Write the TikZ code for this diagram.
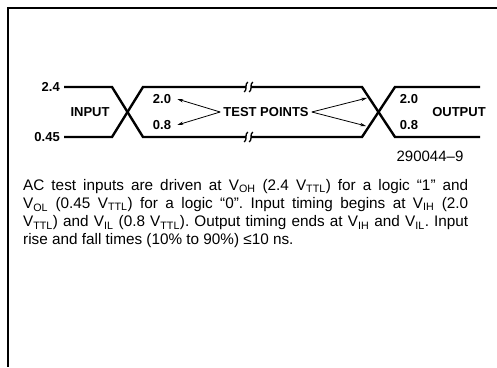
\documentclass[tikz,border=0pt]{standalone}
\usepackage{fontspec}
\setmainfont{Liberation Sans}
\usetikzlibrary{arrows.meta, positioning}

\begin{document}
\begin{tikzpicture}[x=1pt, y=-1pt,
    wave/.style={line width=2.4pt, line join=miter},
    lvl/.style={font=\fontsize{13}{15}\selectfont\bfseries, inner sep=1pt},
    arr/.style={-{Stealth[length=6pt,width=3.5pt]}, line width=0.8pt},
    brk/.style={line width=1.3pt},
    figno/.style={font=\fontsize{15}{17}\selectfont},
    caption/.style={font=\fontsize{15.3}{18.2}\selectfont\frenchspacing, align=justify,
        text width=445pt, inner sep=0pt, anchor=north west},
]
\useasboundingbox (0,0) rectangle (497,367);
% frame
\draw[line width=1.4pt] (497,8) -- (8,8) -- (8,367);

% waveforms
\draw[wave] (64,87) -- (112,87) -- (143,137) -- (246,137);
\draw[wave] (64,137) -- (112,137) -- (143,87) -- (246,87);
\draw[wave] (251,87) -- (362,87) -- (395,137) -- (480,137);
\draw[wave] (251,137) -- (362,137) -- (395,87) -- (480,87);
% break marks
\foreach \yb in {87,137} {
  \foreach \xb in {246,251}
    \draw[brk] (\xb+1.8,\yb-5) .. controls (\xb-1.8,\yb-3) and (\xb+1.8,\yb+3) .. (\xb-1.8,\yb+5);
}

% levels and labels
\node[lvl, anchor=east] (v24) at (61,87) {2.4};
\node[lvl, anchor=east] (v045) at (61,137) {0.45};
\node[lvl] (inp) at (90,112) {INPUT};
\node[lvl] (i20) at (162,99) {2.0};
\node[lvl] (i08) at (162,125) {0.8};
\node[lvl] (tp) at (266,112) {TEST POINTS};
\node[lvl] (o20) at (409,99) {2.0};
\node[lvl] (o08) at (409,125) {0.8};
\node[lvl] (outp) at (459,112) {OUTPUT};
\coordinate (x20) at (367,98);
\coordinate (x08) at (366,126);

\draw[arr] ([xshift=-2pt]tp.west) -- ([xshift=5pt]i20.east);
\draw[arr] ([xshift=-2pt]tp.west) -- ([xshift=5pt]i08.east);
\draw[arr] ([xshift=2pt]tp.east) -- (x20);
\draw[arr] ([xshift=2pt]tp.east) -- (x08);

\node[figno] (fig) at (430,156) {290044--9};

\node[caption] (cap) at (23,179) {AC test inputs are driven at V\textsubscript{OH} (2.4 V\textsubscript{TTL}) for a logic ``1'' and\linebreak
V\textsubscript{OL} (0.45 V\textsubscript{TTL}) for a logic ``0''. Input timing begins at V\textsubscript{IH} (2.0\linebreak
V\textsubscript{TTL}) and V\textsubscript{IL} (0.8 V\textsubscript{TTL}). Output timing ends at V\textsubscript{IH} and V\textsubscript{IL}. Input\linebreak
rise and fall times (10\% to 90\%) ≤10 ns.};
\end{tikzpicture}
\end{document}
